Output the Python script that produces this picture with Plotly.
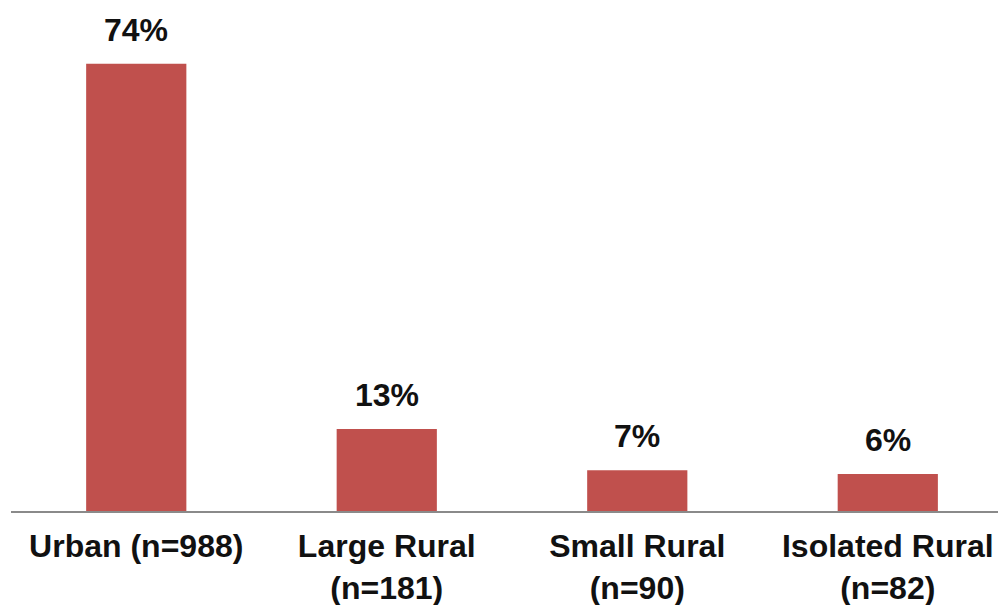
import plotly.graph_objects as go

categories = ["Urban (n=988)", "Large Rural<br>(n=181)", "Small Rural<br>(n=90)", "Isolated Rural<br>(n=82)"]
values = [73.7, 13.5, 6.7, 6.1]
labels = ["74%", "13%", "7%", "6%"]

BAR = "#C0504D"
FONT = "Liberation Sans, Arial, sans-serif"

fig = go.Figure(go.Bar(x=categories, y=values, marker=dict(color=BAR, line=dict(width=0)),
                       width=0.4, hoverinfo="skip"))

for c, v, t in zip(categories, values, labels):
    fig.add_annotation(x=c, y=v, text=t, showarrow=False, yanchor="bottom", yshift=14,
                       font=dict(family=FONT, size=32, color="#111111", weight="bold"))

fig.update_layout(
    width=998, height=605,
    margin=dict(l=11, r=0, t=0, b=94),
    paper_bgcolor="white", plot_bgcolor="white",
    showlegend=False,
    font=dict(family=FONT, size=32, color="#111111", weight="bold"),
    xaxis=dict(range=[-0.5, 3.44], showline=True, linecolor="#8a8a8a", linewidth=1.5,
               ticks="", showgrid=False, tickangle=0, ticklabelstandoff=6,
               tickfont=dict(family=FONT, size=32, color="#111111", weight="bold")),
    yaxis=dict(range=[0, 84.2], visible=False, showgrid=False, zeroline=False),
)

fig.write_html("out.html")
